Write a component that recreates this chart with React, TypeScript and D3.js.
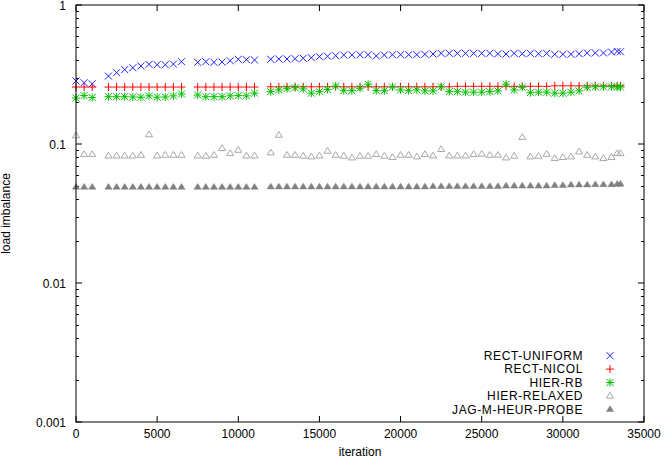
import React from "react";
import * as d3 from "d3";

const iterations = [
  0, 500, 1000,
  2000, 2500, 3000, 3500, 4000, 4500, 5000, 5500, 6000, 6500,
  7500, 8000, 8500, 9000, 9500, 10000, 10500, 11000,
  12000, 12500, 13000, 13500, 14000, 14500, 15000, 15500, 16000, 16500, 17000,
  17500, 18000, 18500, 19000, 19500, 20000, 20500, 21000, 21500, 22000, 22500, 23000,
  23500, 24000, 24500, 25000, 25500, 26000, 26500, 27000, 27500, 28000, 28500, 29000,
  29500, 30000, 30500, 31000, 31500, 32000, 32500, 33000,
  33350, 33550,
];

const rectUniform = [
  0.284, 0.276, 0.271,
  0.308, 0.326, 0.343, 0.354, 0.364, 0.374, 0.372, 0.372, 0.376, 0.391,
  0.387, 0.391, 0.387, 0.389, 0.397, 0.407, 0.404, 0.402,
  0.407, 0.409, 0.409, 0.411, 0.414, 0.418, 0.425, 0.428, 0.432, 0.437, 0.437,
  0.439, 0.439, 0.430, 0.437, 0.439, 0.439, 0.439, 0.439, 0.442, 0.444, 0.449, 0.449,
  0.449, 0.449, 0.449, 0.449, 0.449, 0.446, 0.444, 0.449, 0.446, 0.449, 0.446, 0.449,
  0.442, 0.442, 0.442, 0.446, 0.452, 0.452, 0.452, 0.459,
  0.464, 0.461,
];

const rectNicol = [
  0.257, 0.257, 0.257,
  0.257, 0.257, 0.257, 0.257, 0.257, 0.257, 0.257, 0.257, 0.257, 0.257,
  0.257, 0.257, 0.257, 0.257, 0.257, 0.257, 0.257, 0.257,
  0.258, 0.258, 0.258, 0.258, 0.258, 0.258, 0.258, 0.258, 0.258, 0.258, 0.258,
  0.258, 0.258, 0.258, 0.258, 0.258, 0.258, 0.258, 0.258, 0.258, 0.258, 0.258, 0.258,
  0.26, 0.26, 0.26, 0.26, 0.26, 0.26, 0.26, 0.26, 0.26, 0.26, 0.26, 0.26,
  0.262, 0.262, 0.262, 0.262, 0.262, 0.262, 0.262, 0.262,
  0.262, 0.262,
];

const hierRB = [
  0.214, 0.223, 0.216,
  0.219, 0.219, 0.219, 0.218, 0.217, 0.222, 0.217, 0.218, 0.222, 0.229,
  0.225, 0.219, 0.219, 0.219, 0.222, 0.223, 0.222, 0.232,
  0.238, 0.245, 0.250, 0.254, 0.249, 0.232, 0.238, 0.247, 0.261, 0.242, 0.242,
  0.252, 0.269, 0.242, 0.242, 0.257, 0.245, 0.242, 0.245, 0.241, 0.241, 0.258, 0.238,
  0.238, 0.236, 0.236, 0.236, 0.238, 0.241, 0.269, 0.245, 0.256, 0.234, 0.236, 0.236,
  0.232, 0.232, 0.236, 0.241, 0.256, 0.258, 0.258, 0.258,
  0.257, 0.257,
];

const hierRelaxed = [
  0.115, 0.0843, 0.0843,
  0.0824, 0.0824, 0.0824, 0.0824, 0.0833, 0.117, 0.0824, 0.0833, 0.0833, 0.0833,
  0.0824, 0.082, 0.0833, 0.0931, 0.0857, 0.0905, 0.0824, 0.0824,
  0.0866, 0.116, 0.0833, 0.0833, 0.082, 0.0811, 0.0824, 0.0891, 0.0833, 0.082, 0.0797,
  0.082, 0.082, 0.0843, 0.082, 0.0802, 0.0833, 0.0833, 0.0811, 0.0843, 0.0824, 0.0916, 0.0824,
  0.0824, 0.0824, 0.0843, 0.0847, 0.0833, 0.0833, 0.0797, 0.082, 0.112, 0.0811, 0.082, 0.0847,
  0.0789, 0.0802, 0.0811, 0.0881, 0.0833, 0.0811, 0.0789, 0.0802,
  0.0857, 0.0857,
];

const jagMHeurProbe = [
  0.049, 0.049, 0.049,
  0.049, 0.049, 0.049, 0.049, 0.049, 0.049, 0.049, 0.049, 0.049, 0.049,
  0.049, 0.049, 0.049, 0.049, 0.049, 0.049, 0.049, 0.049,
  0.0493, 0.0493, 0.0493, 0.0493, 0.0493, 0.0493, 0.0493, 0.0493, 0.0493, 0.0493, 0.0493,
  0.0493, 0.0493, 0.0493, 0.0493, 0.0493, 0.0493, 0.0493, 0.0493, 0.0493, 0.0496, 0.0496, 0.0496,
  0.0496, 0.0496, 0.0496, 0.0496, 0.0496, 0.0496, 0.05, 0.05, 0.05, 0.05, 0.05, 0.05,
  0.0505, 0.0505, 0.051, 0.051, 0.051, 0.0512, 0.0512, 0.0512,
  0.0516, 0.0516,
];

const seriesNames = ["RECT-UNIFORM", "RECT-NICOL", "HIER-RB", "HIER-RELAXED", "JAG-M-HEUR-PROBE"];
const xTicks = [0, 5000, 10000, 15000, 20000, 25000, 30000, 35000];
const yTicks = [0.001, 0.01, 0.1, 1];
const yTickLabels = ["0.001", "0.01", "0.1", "1"];

const W = 664;
const H = 460;
const L = 76;
const R = 644;
const T = 5;
const B = 422;
const FONT = "'Liberation Sans', Arial, Helvetica, sans-serif";

const x = d3.scaleLinear().domain([0, 35000]).range([L, R]);
const y = d3.scaleLog().domain([0.001, 1]).range([B, T]);

type MarkerKind = "cross" | "plus" | "star" | "tri" | "trifill";

function Marker({ kind, cx, cy }: { kind: MarkerKind; cx: number; cy: number }) {
  const s = 3.5;
  if (kind === "cross") {
    return (
      <path d={`M${cx - s},${cy - s}L${cx + s},${cy + s}M${cx - s},${cy + s}L${cx + s},${cy - s}`} stroke="#2020ff" strokeWidth={1} fill="none" />
    );
  }
  if (kind === "plus") {
    return (
      <path d={`M${cx - s - 0.5},${cy}L${cx + s + 0.5},${cy}M${cx},${cy - s - 0.5}L${cx},${cy + s + 0.5}`} stroke="#ff0000" strokeWidth={1} fill="none" />
    );
  }
  if (kind === "star") {
    return (
      <path
        d={`M${cx - s},${cy - s}L${cx + s},${cy + s}M${cx - s},${cy + s}L${cx + s},${cy - s}M${cx - s - 0.5},${cy}L${cx + s + 0.5},${cy}M${cx},${cy - s - 0.5}L${cx},${cy + s + 0.5}`}
        stroke="#00c000"
        strokeWidth={1}
        fill="none"
      />
    );
  }
  const tw = 3.6;
  const th = 3.2;
  const d = `M${cx - tw},${cy + th * 0.7}L${cx + tw},${cy + th * 0.7}L${cx},${cy - th * 1.1}Z`;
  if (kind === "tri") {
    return <path d={d} stroke="#a8a8a8" strokeWidth={1} fill="none" />;
  }
  return <path d={d} stroke="#808080" strokeWidth={0.5} fill="#808080" />;
}

const seriesData: { name: string; values: number[]; kind: MarkerKind }[] = [
  { name: seriesNames[0], values: rectUniform, kind: "cross" },
  { name: seriesNames[1], values: rectNicol, kind: "plus" },
  { name: seriesNames[2], values: hierRB, kind: "star" },
  { name: seriesNames[3], values: hierRelaxed, kind: "tri" },
  { name: seriesNames[4], values: jagMHeurProbe, kind: "trifill" },
];

export default function App() {
  const minor: number[] = [];
  for (let e = -3; e < 0; e++) {
    for (let m = 2; m <= 9; m++) minor.push(m * Math.pow(10, e));
  }
  return (
    <svg width={W} height={H} style={{ position: "absolute", left: 0, top: 0, background: "#fff" }} fontFamily={FONT} fontSize={12}>
      <rect x={0} y={0} width={W} height={H} fill="#fff" />
      {yTicks.map((t) => (
        <g key={"yt" + t}>
          <line x1={L} x2={L + 6} y1={y(t)} y2={y(t)} stroke="#000" />
          <line x1={R} x2={R - 6} y1={y(t)} y2={y(t)} stroke="#000" />
        </g>
      ))}
      {minor.map((t) => (
        <g key={"ym" + t}>
          <line x1={L} x2={L + 3} y1={Math.round(y(t)) + 0.5} y2={Math.round(y(t)) + 0.5} stroke="#000" />
          <line x1={R} x2={R - 3} y1={Math.round(y(t)) + 0.5} y2={Math.round(y(t)) + 0.5} stroke="#000" />
        </g>
      ))}
      {yTicks.map((t, i) => (
        <text key={"yl" + t} x={66} y={y(t) + 4.5} textAnchor="end" fill="#000">
          {yTickLabels[i]}
        </text>
      ))}
      {xTicks.map((t) => (
        <g key={"xt" + t}>
          <line x1={x(t)} x2={x(t)} y1={B} y2={B - 6} stroke="#000" />
          <line x1={x(t)} x2={x(t)} y1={T} y2={T + 6} stroke="#000" />
          <text x={x(t)} y={438} textAnchor="middle" fill="#000">
            {t}
          </text>
        </g>
      ))}
      <text x={(L + R) / 2} y={456} textAnchor="middle" fill="#000">
        iteration
      </text>
      <text transform={`translate(10,${(T + B) / 2}) rotate(-90)`} textAnchor="middle" fill="#000">
        load imbalance
      </text>
      {seriesData.map((s) => (
        <g key={s.name}>
          {s.values.map((v, i) => (
            <Marker key={i} kind={s.kind} cx={x(iterations[i])} cy={y(v)} />
          ))}
        </g>
      ))}
      {seriesData.map((s, i) => {
        const cy = 355.7 + i * 13.4;
        return (
          <g key={"lg" + s.name}>
            <text x={583} y={cy + 4.3} textAnchor="end" fill="#000" fontSize={12} letterSpacing={0.6}>
              {s.name}
            </text>
            <Marker kind={s.kind} cx={610} cy={cy} />
          </g>
        );
      })}
      <rect x={L} y={T} width={R - L} height={B - T} fill="none" stroke="#000" strokeWidth={1} />
    </svg>
  );
}
